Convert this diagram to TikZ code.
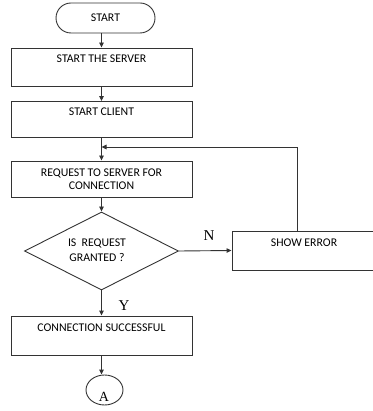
\documentclass[tikz,border=0pt]{standalone}
\usepackage{fontspec}
\setmainfont{Carlito}
\newfontfamily\seriffont{Liberation Serif}
\usetikzlibrary{shapes.geometric,arrows.meta}
\tikzset{
  ln/.style={draw=black!80, line width=0.9pt},
  arr/.style={ln, -{Triangle[width=4.5pt,length=5pt]}},
  box/.style={ln, rectangle, minimum width=181pt, inner sep=0pt, align=center, font=\fontsize{11.8}{12.5}\selectfont},
  term/.style={ln, rectangle, rounded corners=15pt, minimum width=99pt, minimum height=30pt, inner sep=0pt, font=\fontsize{11.8}{12.5}\selectfont},
  dec/.style={ln, diamond, aspect=2, minimum width=154pt, minimum height=78pt, inner sep=0pt, align=center},
  conn/.style={ln, ellipse, minimum width=37pt, minimum height=30pt, inner sep=0pt},
  lbl/.style={font=\seriffont\fontsize{15}{15}\selectfont, inner sep=0pt}
}
\begin{document}
\begin{tikzpicture}[x=1pt,y=-1pt]
\fill[white] (0,0) rectangle (372,411);
\useasboundingbox (0,0) rectangle (372,411);
\node[term] (start) at (105.5,18) {START};
\node[box, minimum height=38pt] (server) at (101.5,67) {START THE SERVER\\ \strut};
\node[box, minimum height=36pt] (client) at (101.5,119.5) {START CLIENT\\ \strut};
\node[box, minimum height=36pt] (req) at (101.5,179) {REQUEST TO SERVER FOR\\CONNECTION};
\node[dec] (granted) at (101.5,251) {};
\node[font=\fontsize{11.8}{15}\selectfont, align=center, inner sep=0pt] (gtext) at (97,250.5) {IS~~REQUEST\\GRANTED ?};
\node[box, minimum width=144pt, minimum height=39pt] (err) at (304,250.5) {SHOW ERROR\\ \strut};
\node[box, minimum height=39pt] (ok) at (101.5,335.5) {CONNECTION SUCCESSFUL\\ \strut};
\node[conn] (A) at (104.5,390) {};
\node[lbl, font=\seriffont\fontsize{14}{14}\selectfont] (Atext) at (104,397) {A};
\coordinate (join) at (101.5,147);
\coordinate (up) at (297,147);

\draw[arr] (start.south -| server.north) -- (server.north);
\draw[arr] (server) -- (client);
\draw[arr] (client) -- (req);
\draw[arr] (req) -- (granted);
\draw[arr] (granted.east) -- (err.west);
\draw[arr] (granted.south) -- (ok.north);
\draw[arr] (ok.south) -- (ok.south |- A.north);
\draw[arr] (err.north -| up) -- (up) -- (join);

\node[lbl] (N) at (209,236) {N};
\node[lbl] (Y) at (124,306) {Y};
\end{tikzpicture}
\end{document}
